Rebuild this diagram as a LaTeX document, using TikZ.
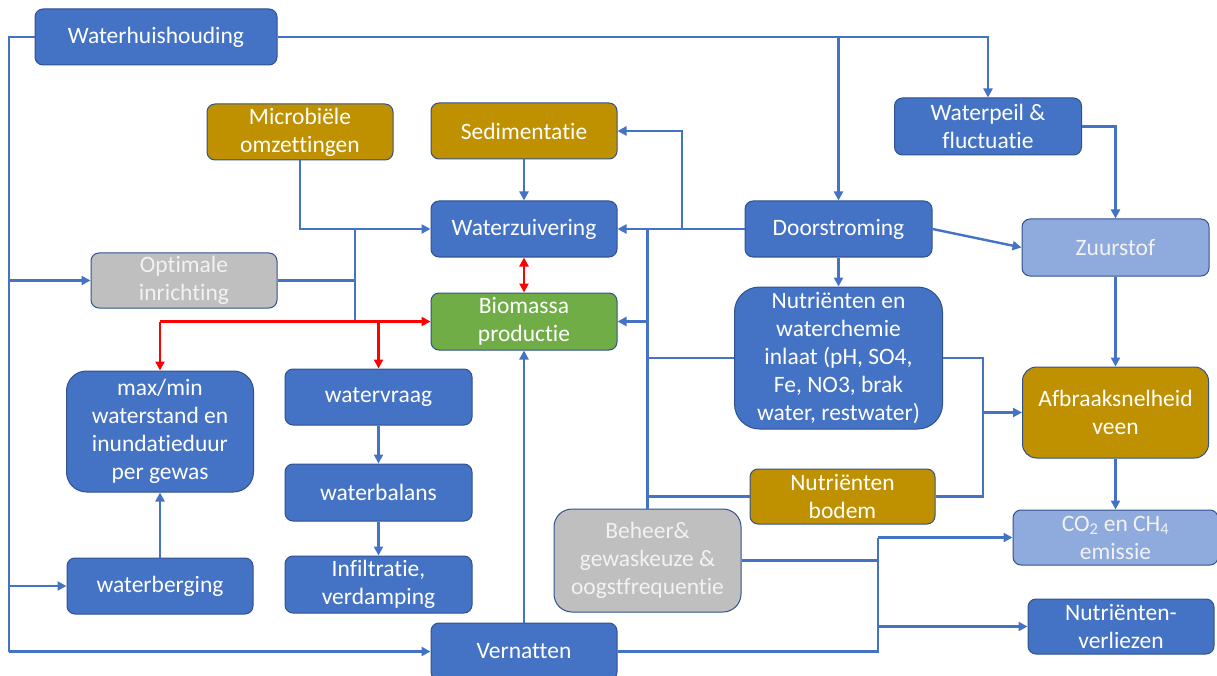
\documentclass[tikz,border=0pt]{standalone}
\usepackage{fontspec}
\setmainfont[Ligatures=NoCommon]{Carlito}
\usetikzlibrary{arrows.meta}
\definecolor{cblue}{HTML}{4472C4}
\definecolor{cgold}{HTML}{BF9000}
\definecolor{cgray}{HTML}{BFBFBF}
\definecolor{cgreen}{HTML}{70AD47}
\definecolor{clight}{HTML}{8FAADC}
\definecolor{cedge}{HTML}{2F528F}
\definecolor{cred}{HTML}{FF0000}
\definecolor{cpale}{HTML}{F2F2F2}
\begin{document}
\begin{tikzpicture}[x=1pt,y=-1pt,
 box/.style={draw=cedge, line width=1pt, rounded corners=8pt, text=white, align=center, inner sep=0pt, font=\fontsize{23.5}{28}\selectfont},
 bluebox/.style={box, fill=cblue},
 goldbox/.style={box, fill=cgold},
 graybox/.style={box, fill=cgray, text=cpale},
 greenbox/.style={box, fill=cgreen},
 lightbox/.style={box, fill=clight, text=cpale},
 tip/.tip={Triangle[length=9pt,width=9pt]},
 wire/.style={draw=cblue, line width=2.4pt},
 conn/.style={wire, -tip},
 redwire/.style={draw=cred, line width=2.4pt},
 redconn/.style={redwire, -tip},
]
\useasboundingbox (0,0) rectangle (1217,676);
\clip (0,0) rectangle (1217,676);

% nodes
\node[bluebox, minimum width=242pt, minimum height=56pt] (wh) at (156,37) {Waterhuishouding};
\node[goldbox, minimum width=186pt, minimum height=56pt] (micro) at (300,132) {Microbiële\\omzettingen};
\node[goldbox, minimum width=186pt, minimum height=56pt] (sed) at (524,131) {Sedimentatie};
\node[bluebox, minimum width=187pt, minimum height=57pt] (peil) at (988,126.5) {Waterpeil \&\\fluctuatie};
\node[bluebox, minimum width=186pt, minimum height=56pt] (zuiv) at (524,229) {Waterzuivering};
\node[bluebox, minimum width=187pt, minimum height=56pt] (door) at (838.5,229) {Doorstroming};
\node[lightbox, minimum width=187pt, minimum height=57pt] (zuur) at (1115.5,247.5) {Zuurstof};
\node[graybox, minimum width=186pt, minimum height=55pt] (opt) at (184,280.5) {Optimale\\inrichting};
\node[greenbox, minimum width=186pt, minimum height=57pt] (bio) at (524,321.5) {Biomassa\\productie};
\node[bluebox, rounded corners=25pt, minimum width=208pt, minimum height=142pt] (nwc) at (838.5,358) {Nutriënten en\\waterchemie\\inlaat (pH, SO4,\\Fe, NO3, brak\\water, restwater)};
\node[bluebox, rounded corners=20pt, minimum width=187pt, minimum height=121pt] (maxmin) at (160,431.5) {max/min\\waterstand en\\inundatieduur\\per gewas};
\node[bluebox, minimum width=187pt, minimum height=56pt] (vraag) at (378.5,397) {watervraag};
\node[goldbox, rounded corners=14pt, minimum width=186pt, minimum height=91pt] (afbr) at (1115.5,412.5) {Afbraaksnelheid\\veen};
\node[bluebox, minimum width=187pt, minimum height=57pt] (balans) at (378.5,492.5) {waterbalans};
\node[goldbox, minimum width=185pt, minimum height=55pt] (nbodem) at (842.5,496.5) {Nutriënten\\bodem};
\node[graybox, rounded corners=18pt, minimum width=187pt, minimum height=103pt] (beheer) at (647.5,560.5) {Beheer\&\\gewaskeuze \&\\oogstfrequentie};
\node[lightbox, minimum width=205pt, minimum height=55pt] (co2) at (1115.5,537.5) {CO\textsubscript{2} en CH\textsubscript{4}\\emissie};
\node[bluebox, minimum width=186pt, minimum height=56pt] (berg) at (160,586) {waterberging};
\node[bluebox, minimum width=187pt, minimum height=57pt] (infil) at (378.5,584.5) {Infiltratie,\\verdamping};
\node[bluebox, minimum width=186pt, minimum height=57pt] (vern) at (524,651.5) {Vernatten};
\node[bluebox, minimum width=186pt, minimum height=55pt] (nverl) at (1121,626.5) {Nutriënten-\\verliezen};

% junction coordinates
\coordinate (lt) at (9,37);
\coordinate (lb) at (9,651.5);
\coordinate (sedj) at (682,229);
\coordinate (busr) at (983,358);
\coordinate (busrb) at (983,496.5);
\coordinate (busrm) at (983,412.5);
\coordinate (beht) at (878,537.5);
\coordinate (behb) at (878,651.5);
\coordinate (behm) at (878,626.5);
\coordinate (lbus) at (355,229);
\coordinate (lbusb) at (355,322);

% blue connectors
\draw[wire] (wh.west) -- (lt) -- (lb);
\draw[conn] (lb) -- (vern.west);
\draw[conn] (lt |- opt.west) -- (opt.west);
\draw[conn] (lt |- berg.west) -- (berg.west);
\draw[conn] (wh.east) -| (peil.north);
\draw[conn] (door.north |- wh.east) -- (door.north);
\draw[conn] (peil.east) -| (zuur.north);
\draw[conn] (door.east) -- (zuur.west);
\draw[conn] (door.south) -- (nwc.north);
\draw[conn] (door.west) -- (zuiv.east);
\draw[conn] (sedj) |- (sed.east);
\draw[wire] (beheer.north |- zuiv.east) -- (beheer.north);
\draw[conn] (beheer.north |- bio.east) -- (bio.east);
\draw[wire] (nwc.west) -- (nwc.west -| beheer.north);
\draw[wire] (nbodem.west) -- (nbodem.west -| beheer.north);
\draw[wire] (nwc.east) -- (busr) -- (busrb) -- (nbodem.east);
\draw[conn] (busrm) -- (afbr.west);
\draw[conn] (zuur.south) -- (afbr.north);
\draw[conn] (afbr.south) -- (co2.north);
\draw[wire] (beheer.east) -- (beheer.east -| beht);
\draw[wire] (vern.east) -- (behb) -- (beht);
\draw[conn] (beht) -- (co2.west);
\draw[conn] (behm) -- (nverl.west);
\draw[conn] (sed.south) -- (zuiv.north);
\draw[conn] (micro.south) |- (zuiv.west);
\draw[wire] (lbus) -- (lbusb);
\draw[wire] (opt.east) -- (opt.east -| lbus);
\draw[conn] (vraag.south) -- (balans.north);
\draw[conn] (balans.south) -- (infil.north);
\draw[conn] (berg.north) -- (maxmin.south);
\draw[conn] (vern.north) -- (bio.south);

% red connectors
\draw[redwire, tip-tip] (zuiv.south) -- (bio.north);
\draw[redconn] (maxmin.north |- bio.west) -- (bio.west);
\draw[redconn] (maxmin.north |- bio.west) -- (maxmin.north);
\draw[redconn] (vraag.north |- bio.west) -- (vraag.north);
\end{tikzpicture}
\end{document}
